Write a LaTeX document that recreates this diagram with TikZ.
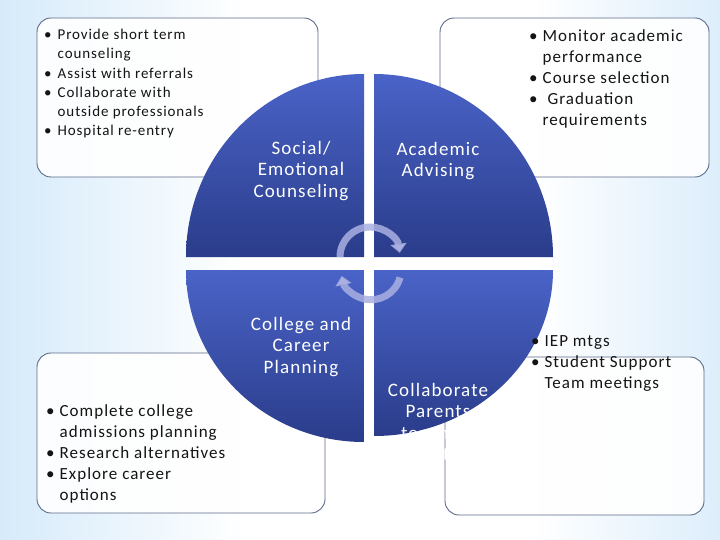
\documentclass[tikz,border=0pt]{standalone}
\usepackage{fontspec}
\setmainfont{Carlito}
\usepackage{xcolor}
\definecolor{BgBlue}{RGB}{184,220,247}
\definecolor{QuadLight}{RGB}{74,99,199}
\definecolor{QuadDark}{RGB}{42,60,138}
\definecolor{BoxBorder}{RGB}{92,106,138}
\definecolor{ArrowLav}{RGB}{170,176,226}
\definecolor{TextBlack}{RGB}{20,20,20}
\usetikzlibrary{arrows.meta, positioning, calc}
\pgfdeclarehorizontalshading{bgshade}{100bp}{color(0bp)=(BgBlue); color(20bp)=(BgBlue!75!white);
  color(42bp)=(white); color(62bp)=(white); color(82bp)=(BgBlue!75!white); color(100bp)=(BgBlue)}
\tikzset{
  % white rounded boxes in the corners
  infobox/.style={
    rectangle, rounded corners=14pt,
    draw=BoxBorder, line width=0.9pt,
    fill=white, fill opacity=0.92
  },
  % quarter pieces of the circle
  quad/.style={top color=QuadLight, bottom color=QuadDark},
  % labels on the quarters
  quadlabel/.style={
    text=white, align=center, inner sep=0pt,
    font=\fontsize{19}{21.5}\selectfont\addfontfeature{LetterSpace=6}
  },
  % bullet lists
  listtext/.style={anchor=north west, inner sep=0pt, text=TextBlack},
  % the two turning arrows
  cyclearr/.style={
    line width=7pt, draw=ArrowLav, draw opacity=0.85,
    -{Triangle[length=9pt,width=16pt]}
  },
}
\newcommand{\smalllist}{\fontsize{15}{19.2}\selectfont\addfontfeature{LetterSpace=6}}
\newcommand{\biglist}{\fontsize{17}{21.2}\selectfont\addfontfeature{LetterSpace=6}}

\begin{document}
\begin{tikzpicture}[x=1pt, y=-1pt]
  \useasboundingbox (0,0) rectangle (720,540);
  % background
  \shade[shading=bgshade] (0,0) rectangle (720,540);

  % corner boxes
  \node[infobox, minimum width=281, minimum height=159] (socbox) at (177.5,97.5) {};
  \node[infobox, minimum width=269, minimum height=159] (acadbox) at (574.5,97.5) {};
  \node[infobox, minimum width=288, minimum height=160] (carbox) at (181,433) {};
  \node[infobox, minimum width=259, minimum height=158] (collbox) at (574.5,436) {};

  % circle in four pieces
  \coordinate (hub) at (369,263.5);
  \shade[quad] (364,257) -- (186,257)
    arc[start angle=180, end angle=270, x radius=178, y radius=183] -- cycle;
  \shade[quad] (374,257) -- (374,74)
    arc[start angle=270, end angle=360, x radius=179, y radius=183] -- cycle;
  \shade[quad] (374,270) -- (553,270)
    arc[start angle=0, end angle=90, x radius=179, y radius=166] -- cycle;
  \shade[quad] (364,270) -- (364,442)
    arc[start angle=90, end angle=180, x radius=178, y radius=172] -- cycle;

  % turning arrows
  \draw[cyclearr] ($(hub)+(-29,-6.5)$) arc[start angle=180, end angle=352, radius=30];
  \draw[cyclearr] ($(hub)+(31,14)$) arc[start angle=15, end angle=168, radius=30];

  % quarter labels
  \node[quadlabel] (social) at (301,171) {Social/\\Emotional\\Counseling};
  \node[quadlabel] (academic) at (438,161) {Academic\\Advising};
  \node[quadlabel] (career) at (301,347) {College and\\Career\\Planning};
  \node[quadlabel, anchor=north] (collab) at (438,383)
    {Collaborate\\Parents\\teachers\\administrators};

  % box texts
  \node[listtext, font=\smalllist] (soclist) at (44,26) {%
    \begin{tabular}{@{}l@{\hspace{6pt}}l@{}}
      \textbullet & Provide short term\\
                  & counseling\\
      \textbullet & Assist with referrals\\
      \textbullet & Collaborate with\\
                  & outside professionals\\
      \textbullet & Hospital re-entry
    \end{tabular}};
  \node[listtext, font=\biglist] (acadlist) at (529,26) {%
    \begin{tabular}{@{}l@{\hspace{5pt}}l@{}}
      \textbullet & Monitor academic\\
                  & performance\\
      \textbullet & Course selection\\
      \textbullet & \ Graduation\\
                  & requirements
    \end{tabular}};
  \node[listtext, font=\biglist] (carlist) at (46,401) {%
    \begin{tabular}{@{}l@{\hspace{5pt}}l@{}}
      \textbullet & Complete college\\
                  & admissions planning\\
      \textbullet & Research alternatives\\
      \textbullet & Explore career\\
                  & options
    \end{tabular}};
  \node[listtext, font=\biglist] (colllist) at (531,331) {%
    \begin{tabular}{@{}l@{\hspace{5pt}}l@{}}
      \textbullet & IEP mtgs\\
      \textbullet & Student Support\\
                  & Team meetings
    \end{tabular}};
\end{tikzpicture}
\end{document}
